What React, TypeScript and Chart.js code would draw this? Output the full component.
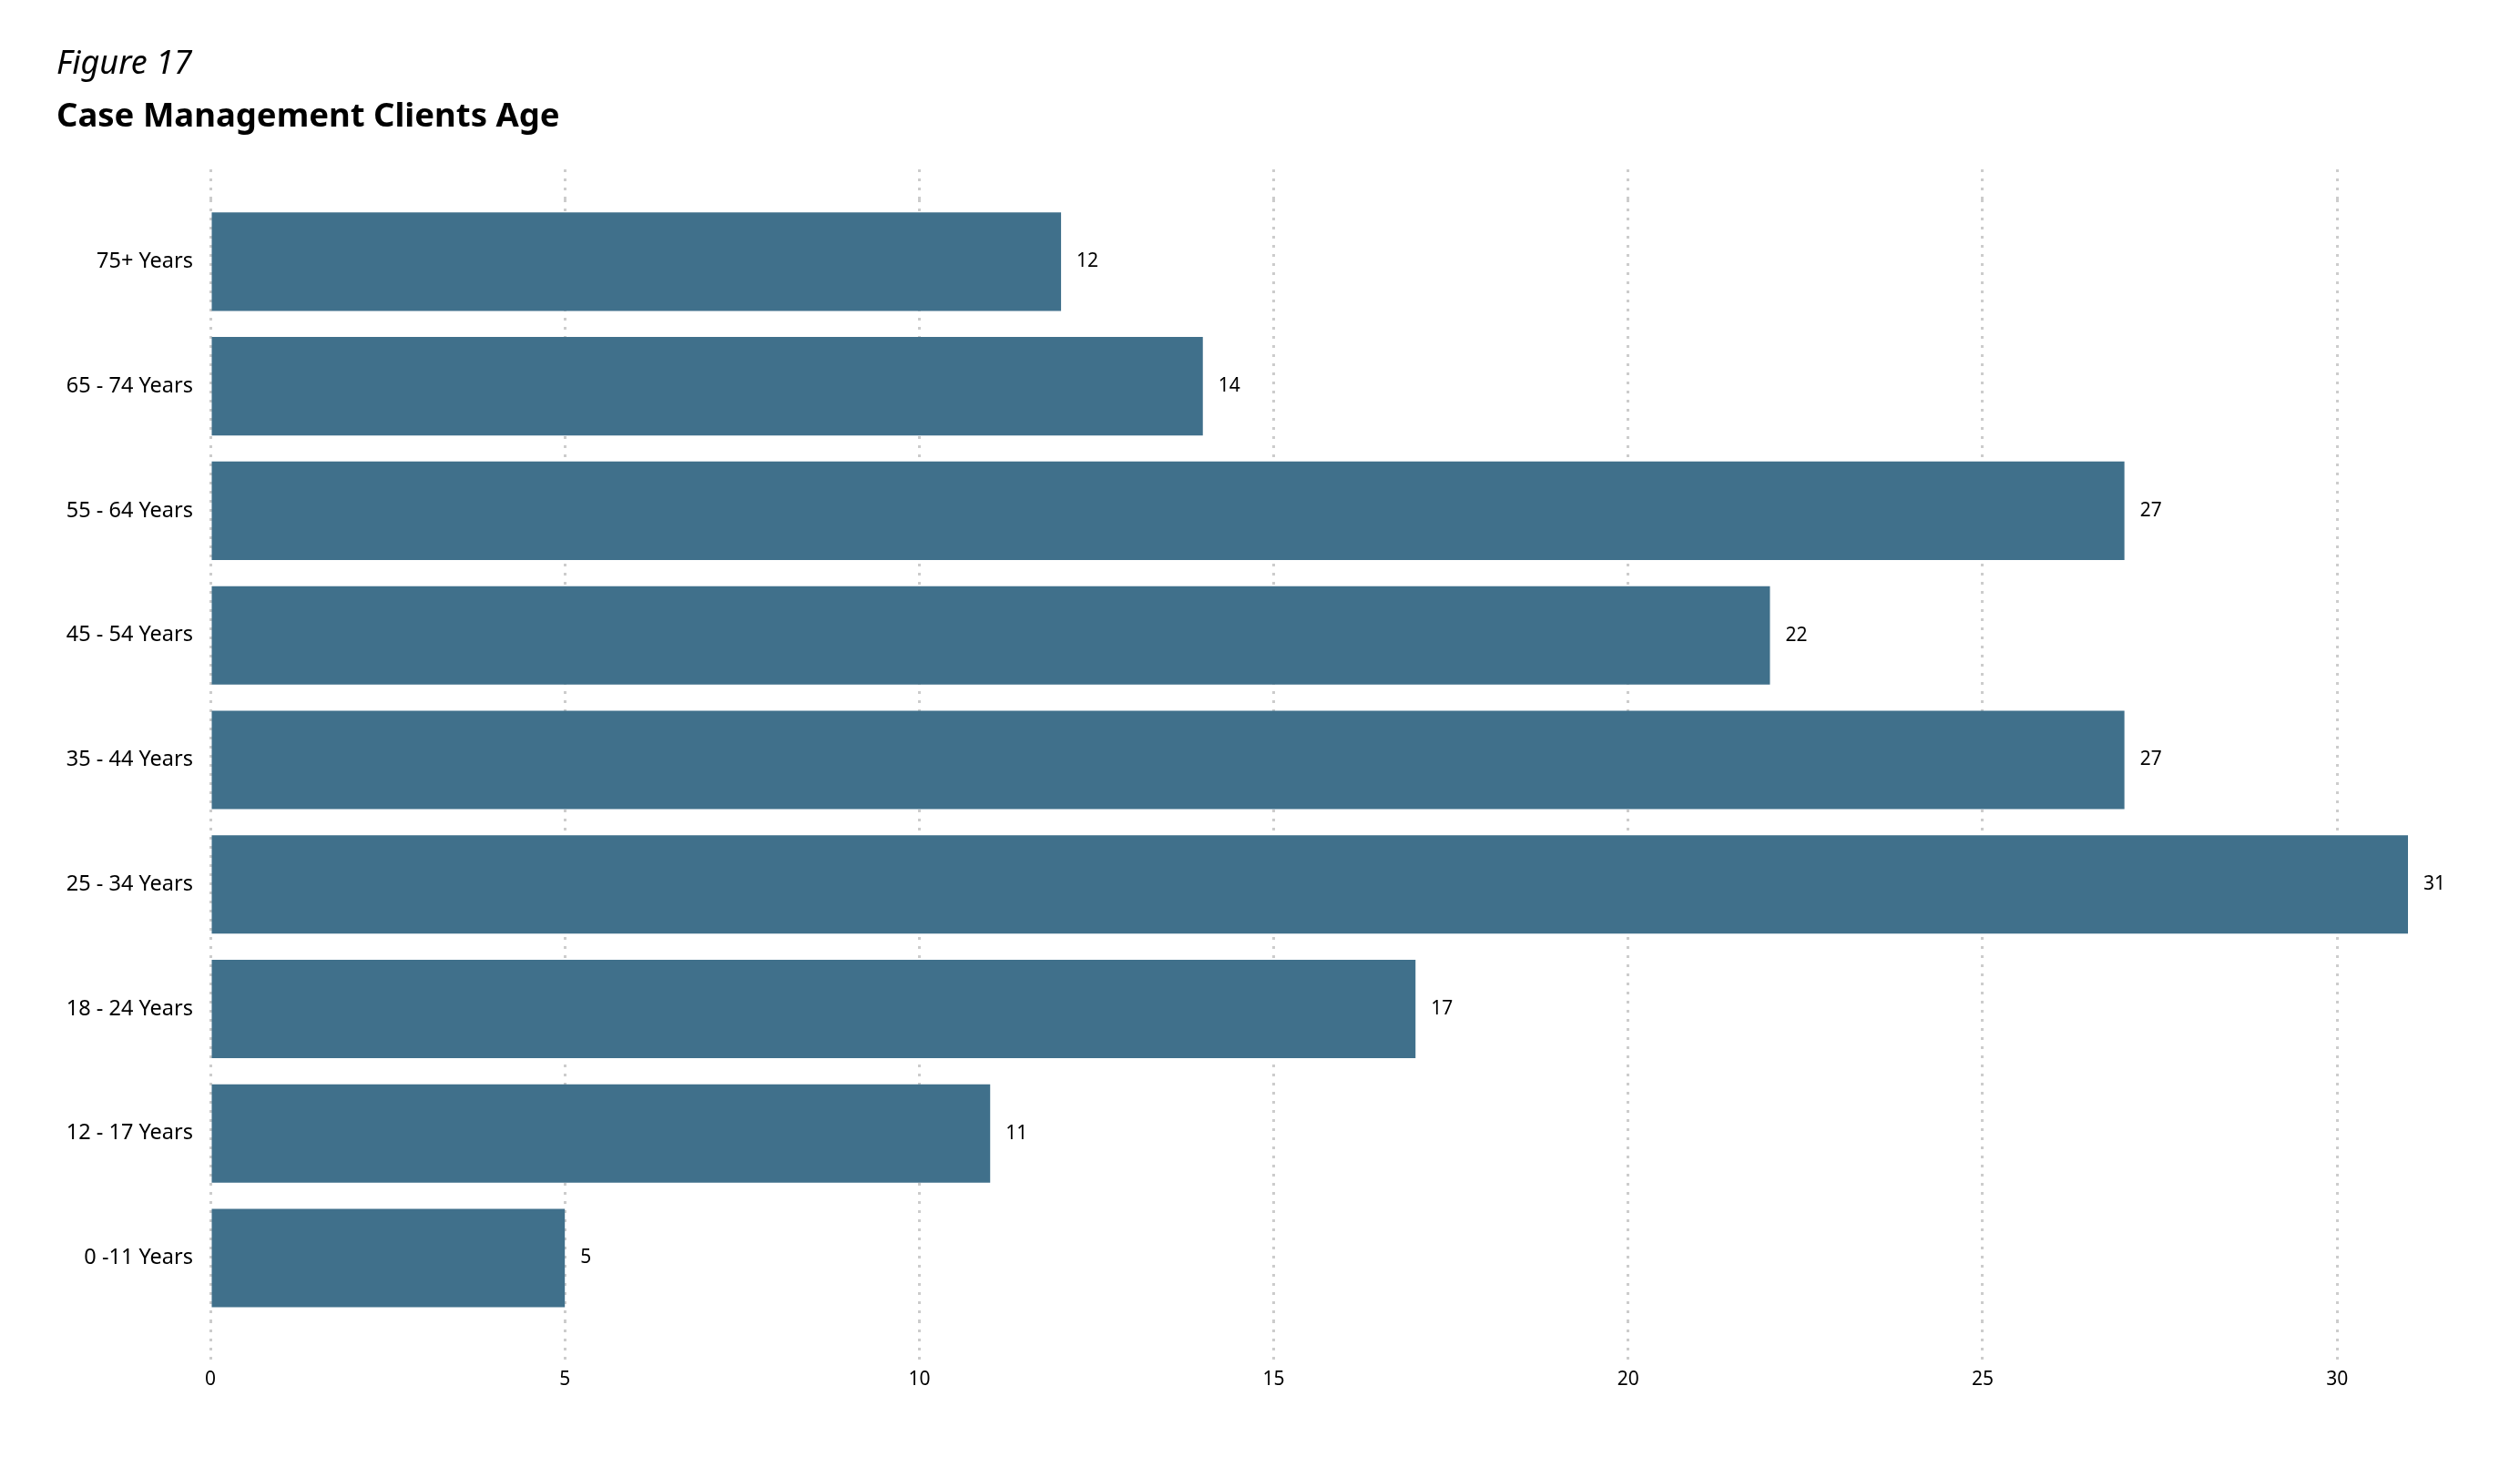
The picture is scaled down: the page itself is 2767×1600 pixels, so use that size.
import React, { useEffect, useRef } from "react";
import { Chart, registerables } from "chart.js";

Chart.register(...registerables);

const figureLabel = "Figure 17";
const chartTitle = "Case Management Clients Age";
const categories = [
  "75+ Years",
  "65 - 74 Years",
  "55 - 64 Years",
  "45 - 54 Years",
  "35 - 44 Years",
  "25 - 34 Years",
  "18 - 24 Years",
  "12 - 17 Years",
  "0 -11 Years",
];
const clientCounts = [12, 14, 27, 22, 27, 31, 17, 11, 5];
const xMin = 0;
const xMax = 31;
const xStep = 5;

const FONT = "'Noto Sans', 'Open Sans', sans-serif";
const BAR_COLOR = "#40708B";
const GRID_COLOR = "#cccccc";
const DASH = [3, 7];

const valueLabels = {
  id: "valueLabels",
  afterDatasetsDraw(chart: any) {
    const ctx = chart.ctx;
    const meta = chart.getDatasetMeta(0);
    const data = chart.data.datasets[0].data;
    ctx.save();
    ctx.font = `21px ${FONT}`;
    ctx.fillStyle = "#000";
    ctx.textAlign = "left";
    ctx.textBaseline = "middle";
    meta.data.forEach((el: any, i: number) => {
      ctx.fillText(String(data[i]), el.x + 17, el.y);
    });
    ctx.restore();
  },
};

export default function App() {
  const ref = useRef<HTMLCanvasElement | null>(null);
  useEffect(() => {
    if (!ref.current) return;
    const chart = new Chart(ref.current, {
      type: "bar",
      data: {
        labels: categories,
        datasets: [
          {
            data: clientCounts,
            backgroundColor: BAR_COLOR,
            borderWidth: 0,
            categoryPercentage: 1,
            barPercentage: 0.79,
            xAxisID: "x",
          },
        ],
      },
      options: {
        indexAxis: "y",
        animation: false,
        responsive: false,
        maintainAspectRatio: false,
        layout: { padding: { left: 62, right: 123, top: 0, bottom: 63 } },
        plugins: {
          legend: { display: false },
          tooltip: { enabled: false },
          title: {
            display: true,
            text: figureLabel,
            align: "start",
            color: "#000",
            font: { family: FONT, size: 36, style: "italic", weight: "normal" },
            padding: { top: 49, bottom: 0 },
          },
          subtitle: {
            display: true,
            text: chartTitle,
            align: "start",
            color: "#000",
            font: { family: FONT, size: 36.5, weight: "bold" },
            padding: { top: 15, bottom: 35 },
          },
        },
        scales: {
          x: {
            type: "linear",
            position: "bottom",
            min: xMin,
            max: xMax,
            ticks: {
              stepSize: xStep,
              includeBounds: false,
              color: "#000",
              font: { family: FONT, size: 21 },
              padding: 9,
            },
            grid: {
              color: GRID_COLOR,
              lineWidth: 3,
              tickColor: GRID_COLOR,
              tickWidth: 3,
              tickLength: 44,
              tickBorderDash: DASH,
              borderDash: DASH,
            } as any,
            border: { display: false, dash: DASH },
          },
          x2: {
            type: "linear",
            position: "top",
            min: xMin,
            max: xMax,
            ticks: { stepSize: xStep, includeBounds: false, display: false },
            grid: {
              color: "rgba(0,0,0,0)",
              drawOnChartArea: false,
              tickColor: GRID_COLOR,
              tickWidth: 3,
              tickLength: 33,
              tickBorderDash: DASH,
            } as any,
            border: { display: false },
          },
          y: {
            grid: { display: false, drawTicks: false },
            border: { display: false },
            ticks: {
              color: "#000",
              font: { family: FONT, size: 23.5 },
              padding: 19,
            },
            afterFit(scale: any) {
              scale.width = 169;
            },
          },
        },
      },
      plugins: [valueLabels],
    } as any);
    return () => chart.destroy();
  }, []);
  return (
    <div style={{ position: "fixed", left: 0, top: 0, width: 2767, height: 1600, background: "#fff" }}>
      <canvas ref={ref} width={2767} height={1600} style={{ width: 2767, height: 1600, display: "block" }} />
    </div>
  );
}
